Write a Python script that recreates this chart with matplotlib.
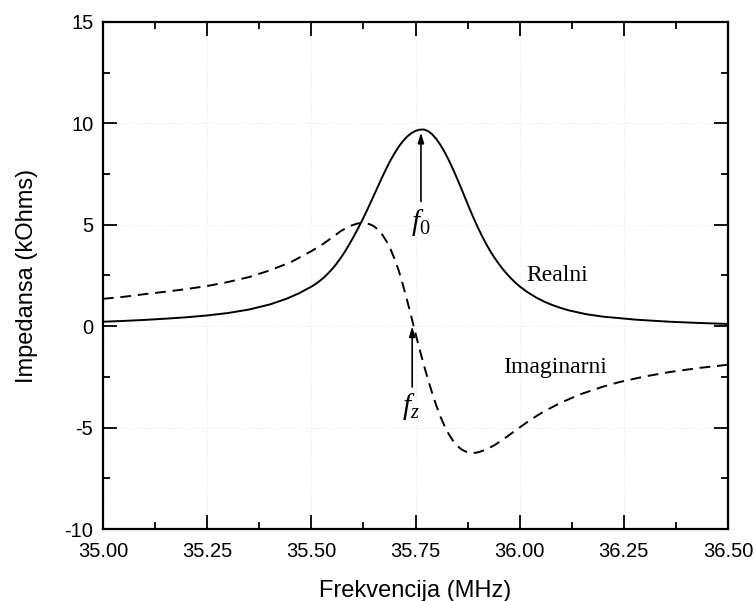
import numpy as np
import matplotlib
matplotlib.use('Agg')
import matplotlib.pyplot as plt
from matplotlib.ticker import MultipleLocator, FormatStrFormatter

plt.rcParams['font.family'] = ['Liberation Sans', 'DejaVu Sans']
plt.rcParams['axes.unicode_minus'] = False
plt.rcParams['mathtext.fontset'] = 'custom'
plt.rcParams['mathtext.it'] = 'Liberation Serif:italic'
plt.rcParams['mathtext.rm'] = 'Liberation Serif'

f_real = [35.00, 35.05, 35.10, 35.15, 35.20, 35.25, 35.30, 35.35, 35.40, 35.44, 35.47,
          35.50, 35.51, 35.52, 35.53, 35.54, 35.55, 35.56, 35.57, 35.58, 35.59,
          35.60, 35.61, 35.62, 35.63, 35.64, 35.65, 35.66, 35.67, 35.68, 35.69,
          35.70, 35.71, 35.72, 35.73, 35.74, 35.75, 35.76, 35.77, 35.78, 35.79,
          35.80, 35.81, 35.82, 35.83, 35.84, 35.85, 35.86, 35.87, 35.88, 35.89,
          35.90, 35.91, 35.92, 35.93, 35.94, 35.95, 35.96, 35.97, 35.98, 35.99,
          36.00, 36.02, 36.04, 36.06, 36.08, 36.10, 36.12, 36.16, 36.20, 36.28,
          36.36, 36.43, 36.50]
z_real = [0.22, 0.26, 0.31, 0.37, 0.44, 0.53, 0.65, 0.82, 1.07, 1.35, 1.62,
          1.95, 2.08, 2.23, 2.40, 2.60, 2.82, 3.07, 3.35, 3.66, 4.00,
          4.36, 4.74, 5.14, 5.56, 6.00, 6.45, 6.90, 7.35, 7.78, 8.18,
          8.54, 8.86, 9.13, 9.35, 9.52, 9.63, 9.69, 9.70, 9.62, 9.46,
          9.23, 8.93, 8.58, 8.18, 7.74, 7.27, 6.78, 6.28, 5.78, 5.30,
          4.85, 4.43, 4.04, 3.68, 3.36, 3.07, 2.80, 2.56, 2.34, 2.14,
          1.96, 1.66, 1.41, 1.20, 1.03, 0.89, 0.77, 0.59, 0.47, 0.32,
          0.22, 0.16, 0.11]

# imaginary part (dashed)
f_imag = [35.00, 35.05, 35.10, 35.15, 35.20, 35.25, 35.30, 35.35, 35.40, 35.45,
          35.50, 35.53, 35.55, 35.57, 35.59, 35.61, 35.625, 35.64, 35.65, 35.66,
          35.67, 35.68, 35.69, 35.70, 35.71, 35.72, 35.73, 35.74, 35.75, 35.76,
          35.77, 35.78, 35.79, 35.80, 35.81, 35.82, 35.83, 35.84, 35.85, 35.86,
          35.87, 35.88, 35.89, 35.90, 35.92, 35.94, 35.96, 35.98, 36.00, 36.03,
          36.06, 36.10, 36.145, 36.20, 36.24, 36.30, 36.36, 36.43, 36.50]
z_imag = [1.35, 1.45, 1.58, 1.70, 1.83, 1.98, 2.18, 2.42, 2.75, 3.15,
          3.70, 4.08, 4.38, 4.68, 4.92, 5.06, 5.10, 5.03, 4.93, 4.76,
          4.52, 4.20, 3.80, 3.30, 2.72, 2.02, 1.26, 0.46, -0.36, -1.16,
          -1.92, -2.63, -3.30, -3.92, -4.47, -4.94, -5.33, -5.65, -5.90, -6.07,
          -6.18, -6.24, -6.25, -6.22, -6.08, -5.86, -5.59, -5.29, -4.99, -4.56,
          -4.18, -3.76, -3.36, -2.98, -2.75, -2.48, -2.26, -2.06, -1.90]

xticks = [35.00, 35.25, 35.50, 35.75, 36.00, 36.25, 36.50]
yticks = [-10, -5, 0, 5, 10, 15]

fig = plt.figure(figsize=(7.54, 6.01), dpi=100)
ax = fig.add_axes([0.1366, 0.1198, 0.829, 0.8436])

ax.plot(f_real, z_real, color='black', lw=1.4, solid_joinstyle='round')
ax.plot(f_imag, z_imag, color='black', lw=1.4, linestyle=(0, (5.5, 3.5)))

ax.set_xlim(35.0, 36.5)
ax.set_ylim(-10, 15)
ax.set_xticks(xticks)
ax.set_yticks(yticks)
ax.xaxis.set_major_formatter(FormatStrFormatter('%.2f'))
ax.xaxis.set_minor_locator(MultipleLocator(0.125))
ax.yaxis.set_minor_locator(MultipleLocator(2.5))
ax.tick_params(which='both', direction='in', top=True, right=True, width=1.3)
ax.tick_params(which='major', length=10, labelsize=14.5, pad=7)
ax.tick_params(which='minor', length=5)
ax.tick_params(axis='x', which='major', pad=9)
ax.tick_params(labeltop=False, labelright=False)
for s in ax.spines.values():
    s.set_linewidth(1.6)
ax.grid(True, which='major', color='#d8f2f2', lw=0.8, linestyle=':')
ax.set_axisbelow(True)

ax.set_xlabel('Frekvencija (MHz)', fontsize=17, labelpad=14)
ax.set_ylabel('Impedansa (kOhms)', fontsize=17, labelpad=19)

arrow = dict(arrowstyle='-|>,head_length=0.6,head_width=0.18', color='black', lw=1.2,
             shrinkA=0, shrinkB=0)
ax.annotate('', xy=(35.763, 9.55), xytext=(35.763, 6.15), arrowprops=arrow)
ax.annotate('', xy=(35.742, 0.0), xytext=(35.742, -3.0), arrowprops=arrow)
ax.text(35.763, 5.1, r'$f_{\mathit{0}}$', fontsize=21, ha='center', va='center')
ax.text(35.738, -3.95, r'$f_{\mathit{z}}$', fontsize=21, ha='center', va='center')
ax.text(36.09, 2.5, 'Realni', family='Liberation Serif', fontsize=17, ha='center', va='center')
ax.text(36.085, -2.05, 'Imaginarni', family='Liberation Serif', fontsize=17, ha='center', va='center')

fig.savefig('out.png', dpi=100)
